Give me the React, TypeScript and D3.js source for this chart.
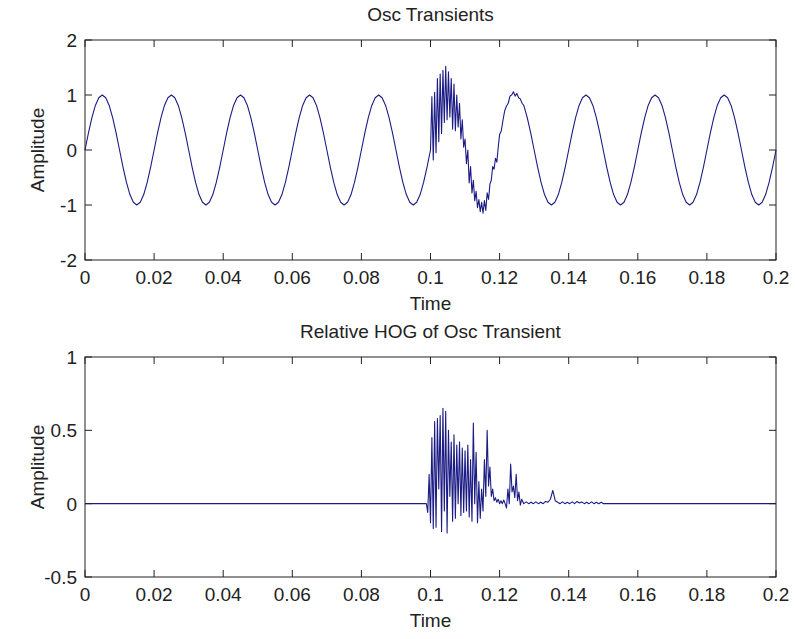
import React from "react";
import * as d3 from "d3";

// ---------------- DATA ----------------
const xTickValues = [0, 0.02, 0.04, 0.06, 0.08, 0.1, 0.12, 0.14, 0.16, 0.18, 0.2];
const xTickLabels = ["0", "0.02", "0.04", "0.06", "0.08", "0.1", "0.12", "0.14", "0.16", "0.18", "0.2"];

const oscYTickValues = [-2, -1, 0, 1, 2];
const oscYTickLabels = ["-2", "-1", "0", "1", "2"];
const hogYTickValues = [-0.5, 0, 0.5, 1];
const hogYTickLabels = ["-0.5", "0", "0.5", "1"];

// Osc transient signal: t = 0 .. 0.099, step 0.001
const oscHeadStep = 0.001;
const oscHeadValues = [
  0, 0.31, 0.59, 0.81, 0.95, 1, 0.95, 0.81, 0.59, 0.31, 0, -0.31, -0.59, -0.81, -0.95, -1, -0.95, -0.81, -0.59, -0.31,
  0, 0.31, 0.59, 0.81, 0.95, 1, 0.95, 0.81, 0.59, 0.31, 0, -0.31, -0.59, -0.81, -0.95, -1, -0.95, -0.81, -0.59, -0.31,
  0, 0.31, 0.59, 0.81, 0.95, 1, 0.95, 0.81, 0.59, 0.31, 0, -0.31, -0.59, -0.81, -0.95, -1, -0.95, -0.81, -0.59, -0.31,
  0, 0.31, 0.59, 0.81, 0.95, 1, 0.95, 0.81, 0.59, 0.31, 0, -0.31, -0.59, -0.81, -0.95, -1, -0.95, -0.81, -0.59, -0.31,
  0, 0.31, 0.59, 0.81, 0.95, 1, 0.95, 0.81, 0.59, 0.31, 0, -0.31, -0.59, -0.81, -0.95, -1, -0.95, -0.81, -0.59, -0.31,
];
// burst: t = 0.1000 .. 0.1200, step 0.0004
const oscBurstStart = 0.1;
const oscBurstStep = 0.0004;
const oscBurstValues = [
  0, 0.97, -0.18, 1.05, -0.05, 1.3, 0.15, 1.38, 0.3, 1.45, 0.5,
  1.52, 0.55, 1.42, 0.6, 1.3, 0.38, 1.2, 0.35, 1.0, 0.42,
  0.85, 0.2, 0.55, 0.05, 0.2, -0.25, 0.0, -0.6, -0.3, -0.78,
  -0.55, -0.92, -0.75, -1.05, -0.9, -1.12, -0.95, -1.15, -0.92, -1.1,
  -0.78, -0.9, -0.62, -0.55, -0.3, -0.35, -0.15, -0.22, 0.05, 0.28,
];
const oscRecoveryTime = [0.1205, 0.121, 0.1215, 0.122, 0.1225, 0.123, 0.1235, 0.124, 0.1245, 0.125, 0.1255, 0.126, 0.1265];
const oscRecoveryValues = [0.35, 0.55, 0.72, 0.8, 0.85, 0.98, 1.0, 1.06, 0.98, 1.03, 0.95, 0.93, 0.85];
// tail: t = 0.127 .. 0.2, step 0.001
const oscTailStart = 0.127;
const oscTailStep = 0.001;
const oscTailValues = [
  0.81, 0.59, 0.31, 0, -0.31, -0.59, -0.81, -0.95, -1, -0.95, -0.81, -0.59, -0.31,
  0, 0.31, 0.59, 0.81, 0.95, 1, 0.95, 0.81, 0.59, 0.31, 0, -0.31, -0.59, -0.81, -0.95, -1, -0.95, -0.81, -0.59, -0.31,
  0, 0.31, 0.59, 0.81, 0.95, 1, 0.95, 0.81, 0.59, 0.31, 0, -0.31, -0.59, -0.81, -0.95, -1, -0.95, -0.81, -0.59, -0.31,
  0, 0.31, 0.59, 0.81, 0.95, 1, 0.95, 0.81, 0.59, 0.31, 0, -0.31, -0.59, -0.81, -0.95, -1, -0.95, -0.81, -0.59, -0.31,
  0,
];

// Relative HOG
const hogLeadTime = [0, 0.0988];
const hogLeadValues = [0, 0];
// burst: t = 0.0992 .. 0.1200, step 0.0004
const hogBurstStart = 0.0992;
const hogBurstStep = 0.0004;
const hogBurstValues = [
  -0.06, 0.2, -0.13, 0.45, -0.17, 0.56, -0.16, 0.58, 0.1, 0.6,
  -0.19, 0.65, -0.05, 0.63, -0.2, 0.5, 0.05, 0.42, -0.12, 0.47,
  -0.1, 0.4, 0.0, 0.42, -0.08, 0.38, -0.06, 0.36, -0.05, 0.4,
  -0.09, 0.3, -0.12, 0.55, 0.0, 0.35, -0.13, 0.15, -0.1, 0.1,
  -0.05, 0.3, 0.05, 0.5, 0.12, 0.25, 0.05, 0.1, 0.02, 0.04,
  0.01, 0.03, 0.0,
];
const hogClusterTime = [0.1204, 0.1208, 0.1212, 0.1216, 0.122, 0.1224, 0.1228, 0.1232, 0.1236, 0.124, 0.1244, 0.1248, 0.1252, 0.1256, 0.126, 0.1264];
const hogClusterValues = [0.02, 0.0, 0.025, 0.0, -0.03, 0.1, 0.0, 0.27, 0.08, 0.12, 0.04, 0.2, 0.02, 0.08, -0.01, 0.03];
// ripple: t = 0.1270 .. 0.1501, step 0.0007
const hogRippleStart = 0.127;
const hogRippleStep = 0.0007;
const hogRippleValues = [
  0, 0.012, 0, 0.01, 0, 0.012, 0, 0.01, 0, 0.015,
  0.01, 0.03, 0.09, 0.02, 0.01, 0, 0.012, 0, 0.01, 0,
  0.012, 0, 0.015, 0.005, 0.012, 0, 0.01, 0, 0.012, 0,
  0.01, 0, 0.01, 0,
];
const hogEndTime = [0.2];
const hogEndValues = [0];

// ---------------- BUILD ----------------
type Pt = { t: number; v: number };
const gridSeg = (start: number, step: number, vals: number[]): Pt[] =>
  vals.map((v, i) => ({ t: start + i * step, v }));
const pairSeg = (ts: number[], vs: number[]): Pt[] => ts.map((t, i) => ({ t, v: vs[i] }));

const oscSeries: Pt[] = [
  ...gridSeg(0, oscHeadStep, oscHeadValues),
  ...gridSeg(oscBurstStart, oscBurstStep, oscBurstValues),
  ...pairSeg(oscRecoveryTime, oscRecoveryValues),
  ...gridSeg(oscTailStart, oscTailStep, oscTailValues),
];
const hogSeries: Pt[] = [
  ...pairSeg(hogLeadTime, hogLeadValues),
  ...gridSeg(hogBurstStart, hogBurstStep, hogBurstValues),
  ...pairSeg(hogClusterTime, hogClusterValues),
  ...gridSeg(hogRippleStart, hogRippleStep, hogRippleValues),
  ...pairSeg(hogEndTime, hogEndValues),
];

const FONT = "'Liberation Sans', Arial, Helvetica, sans-serif";
const FS = 19;
const TEXT = "#222";
const LINE = "#1c1c84";
const LEFT = 85;
const RIGHT = 776;
const TICK = 7;

type PanelProps = {
  top: number;
  bottom: number;
  yDomain: [number, number];
  yTicks: number[];
  yLabels: string[];
  title: string;
  data: Pt[];
};

function Panel({ top, bottom, yDomain, yTicks, yLabels, title, data }: PanelProps) {
  const x = d3.scaleLinear().domain([0, 0.2]).range([LEFT, RIGHT]);
  const y = d3.scaleLinear().domain(yDomain).range([bottom, top]);
  const line = d3
    .line<Pt>()
    .x((d) => x(d.t))
    .y((d) => y(d.v));
  const cx = (LEFT + RIGHT) / 2;
  return (
    <g>
      <path d={line(data) || ""} fill="none" stroke={LINE} strokeWidth={1.1} strokeLinejoin="round" />
      <rect x={LEFT} y={top} width={RIGHT - LEFT} height={bottom - top} fill="none" stroke={TEXT} strokeWidth={1} />
      {xTickValues.map((t, i) => (
        <g key={"x" + i}>
          <line x1={x(t)} x2={x(t)} y1={bottom} y2={bottom - TICK} stroke={TEXT} />
          <line x1={x(t)} x2={x(t)} y1={top} y2={top + TICK} stroke={TEXT} />
          <text x={x(t)} y={bottom + 24} textAnchor="middle" fontFamily={FONT} fontSize={FS} fill={TEXT}>
            {xTickLabels[i]}
          </text>
        </g>
      ))}
      {yTicks.map((v, i) => (
        <g key={"y" + i}>
          <line x1={LEFT} x2={LEFT + TICK} y1={y(v)} y2={y(v)} stroke={TEXT} />
          <line x1={RIGHT} x2={RIGHT - TICK} y1={y(v)} y2={y(v)} stroke={TEXT} />
          <text x={77} y={y(v) + 7} textAnchor="end" fontFamily={FONT} fontSize={FS} fill={TEXT}>
            {yLabels[i]}
          </text>
        </g>
      ))}
      <text x={cx} y={top - 19} textAnchor="middle" fontFamily={FONT} fontSize={FS} fill={TEXT}>
        {title}
      </text>
      <text x={cx} y={bottom + 50} textAnchor="middle" fontFamily={FONT} fontSize={FS} fill={TEXT}>
        Time
      </text>
      <text
        transform={`translate(44,${(top + bottom) / 2}) rotate(-90)`}
        textAnchor="middle"
        fontFamily={FONT}
        fontSize={FS}
        fill={TEXT}
      >
        Amplitude
      </text>
    </g>
  );
}

export default function App() {
  return (
    <svg
      width={795}
      height={639}
      viewBox="0 0 795 639"
      style={{ position: "absolute", left: 0, top: 0, background: "#fff", display: "block" }}
    >
      <rect x={0} y={0} width={795} height={639} fill="#fff" />
      <Panel
        top={40}
        bottom={260}
        yDomain={[-2, 2]}
        yTicks={oscYTickValues}
        yLabels={oscYTickLabels}
        title="Osc Transients"
        data={oscSeries}
      />
      <Panel
        top={357}
        bottom={577}
        yDomain={[-0.5, 1]}
        yTicks={hogYTickValues}
        yLabels={hogYTickLabels}
        title="Relative HOG of Osc Transient"
        data={hogSeries}
      />
    </svg>
  );
}
